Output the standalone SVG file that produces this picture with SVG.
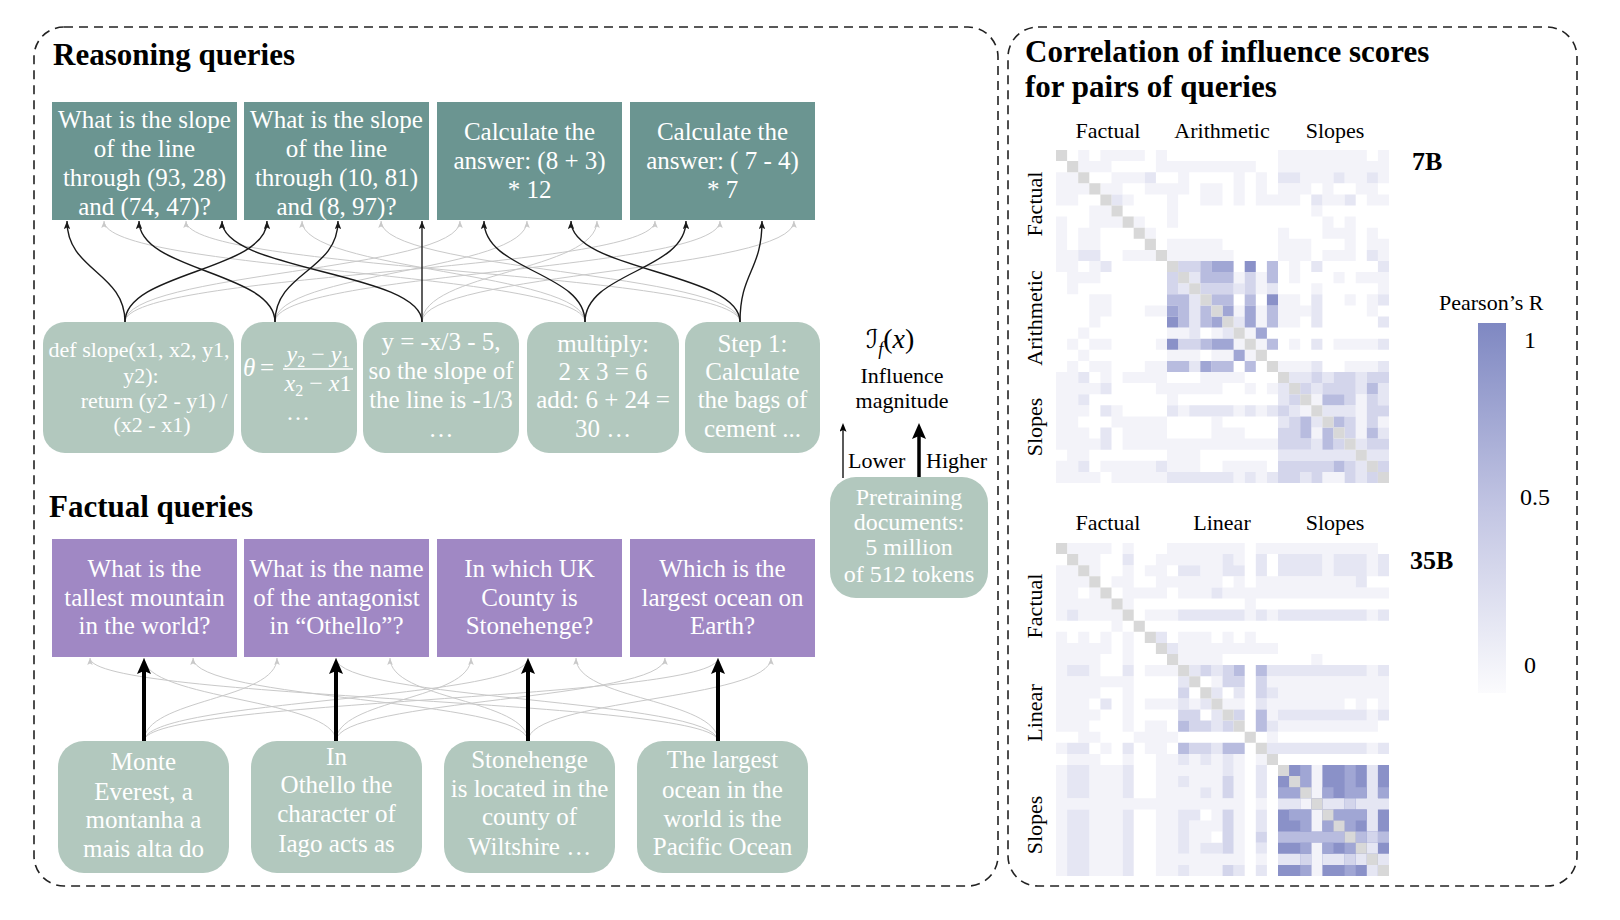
<svg xmlns="http://www.w3.org/2000/svg" width="1620" height="920" viewBox="0 0 1620 920">
<style>
text{font-family:'Liberation Serif','DejaVu Serif',serif}
.ttl{font-size:31px;font-weight:bold;fill:#000}
.q{fill:#6b9591}
.f{fill:#a088c4}
.d{fill:#b2c8be}
.tw{font-size:25px;fill:#fff;text-anchor:middle}
.tc{font-size:22px;fill:#fff;text-anchor:middle}
.lb{font-size:22px;fill:#000;text-anchor:middle}
.panel{fill:none;stroke:#222;stroke-width:1.6;stroke-dasharray:9 6}
.cg{fill:none;stroke:#c9c9c9;stroke-width:1}
.cb{fill:none;stroke:#1a1a1a;stroke-width:1.4}
.big{fill:none;stroke:#000;stroke-width:4}
</style>
<defs>
<marker id="mb" viewBox="0 0 10 8" refX="10" refY="4" markerWidth="8" markerHeight="6.4" markerUnits="userSpaceOnUse" orient="auto"><path d="M0 0L10 4L0 8L2 4z" fill="#1a1a1a"/></marker>
<marker id="mg" viewBox="0 0 10 8" refX="10" refY="4" markerWidth="7" markerHeight="5.6" markerUnits="userSpaceOnUse" orient="auto"><path d="M0 0L10 4L0 8L2 4z" fill="#c9c9c9"/></marker>
<marker id="mbig" viewBox="0 0 16 14" refX="3" refY="7" markerWidth="16" markerHeight="14" markerUnits="userSpaceOnUse" orient="auto"><path d="M0 0L16 7L0 14L3 7z" fill="#000"/></marker>
<marker id="mthin" viewBox="0 0 10 8" refX="2" refY="4" markerWidth="9" markerHeight="7" markerUnits="userSpaceOnUse" orient="auto"><path d="M0 0L10 4L0 8L2 4z" fill="#000"/></marker>
<linearGradient id="cbar" x1="0" y1="0" x2="0" y2="1">
<stop offset="0" stop-color="#7f88c2"/>
<stop offset="0.5" stop-color="#c2c5e3"/>
<stop offset="1" stop-color="#fbfbfd"/>
</linearGradient>
</defs>
<rect width="1620" height="920" fill="#fff"/>

<g id="panels">
<rect class="panel" x="34" y="27" width="964" height="859" rx="30"/>
<rect class="panel" x="1008" y="27" width="569" height="859" rx="30"/>
</g>

<g id="titles">
<text class="ttl" x="53" y="65">Reasoning queries</text>
<text class="ttl" x="49" y="517">Factual queries</text>
<text class="ttl" x="1025" y="62">Correlation of influence scores</text>
<text class="ttl" x="1025" y="97">for pairs of queries</text>
</g>

<g id="connectors">
<g id="reasoning-gray">
<path class="cg" marker-end="url(#mg)" d="M585 322C585 272 104 271 104 221"/>
<path class="cg" marker-end="url(#mg)" d="M740 322C740 272 186 271 186 221"/>
<path class="cg" marker-end="url(#mg)" d="M585 322C585 272 302 271 302 221"/>
<path class="cg" marker-end="url(#mg)" d="M740 322C740 272 381 271 381 221"/>
<path class="cg" marker-end="url(#mg)" d="M125 322C125 272 460 271 460 221"/>
<path class="cg" marker-end="url(#mg)" d="M275 322C275 272 527 271 527 221"/>
<path class="cg" marker-end="url(#mg)" d="M422 322C422 272 597 271 597 221"/>
<path class="cg" marker-end="url(#mg)" d="M125 322C125 272 655 271 655 221"/>
<path class="cg" marker-end="url(#mg)" d="M275 322C275 272 720 271 720 221"/>
<path class="cg" marker-end="url(#mg)" d="M422 322C422 272 794 271 794 221"/>
</g>
<g id="reasoning-black">
<path class="cb" marker-end="url(#mb)" d="M125 322C125 272 67 271 67 221"/>
<path class="cb" marker-end="url(#mb)" d="M125 322C125 272 267 271 267 221"/>
<path class="cb" marker-end="url(#mb)" d="M275 322C275 272 139 271 139 221"/>
<path class="cb" marker-end="url(#mb)" d="M275 322C275 272 338 271 338 221"/>
<path class="cb" marker-end="url(#mb)" d="M422 322C422 272 222 271 222 221"/>
<path class="cb" marker-end="url(#mb)" d="M422 322L422 221"/>
<path class="cb" marker-end="url(#mb)" d="M585 322C585 272 484 271 484 221"/>
<path class="cb" marker-end="url(#mb)" d="M585 322C585 272 686 271 686 221"/>
<path class="cb" marker-end="url(#mb)" d="M740 322C740 272 571 271 571 221"/>
<path class="cb" marker-end="url(#mb)" d="M740 322C740 272 762 271 762 221"/>
</g>
<g id="factual-gray">
<path class="cg" marker-end="url(#mg)" d="M718 741C718 699 90 700 90 658"/>
<path class="cg" marker-end="url(#mg)" d="M336 741C336 699 144 700 144 658"/>
<path class="cg" marker-end="url(#mg)" d="M528 741C528 699 193 700 193 658"/>
<path class="cg" marker-end="url(#mg)" d="M144 741C144 699 277 700 277 658"/>
<path class="cg" marker-end="url(#mg)" d="M718 741C718 699 336 700 336 658"/>
<path class="cg" marker-end="url(#mg)" d="M528 741C528 699 390 700 390 658"/>
<path class="cg" marker-end="url(#mg)" d="M336 741C336 699 471 700 471 658"/>
<path class="cg" marker-end="url(#mg)" d="M144 741C144 699 528 700 528 658"/>
<path class="cg" marker-end="url(#mg)" d="M718 741C718 699 576 700 576 658"/>
<path class="cg" marker-end="url(#mg)" d="M336 741C336 699 665 700 665 658"/>
<path class="cg" marker-end="url(#mg)" d="M144 741C144 699 718 700 718 658"/>
<path class="cg" marker-end="url(#mg)" d="M528 741C528 699 771 700 771 658"/>
</g>
<g id="factual-black">
<path class="big" marker-end="url(#mbig)" d="M144 742V671"/>
<path class="big" marker-end="url(#mbig)" d="M336 742V671"/>
<path class="big" marker-end="url(#mbig)" d="M528 742V671"/>
<path class="big" marker-end="url(#mbig)" d="M718 742V671"/>
</g>
<g id="legend-arrows">
<path d="M843 478V430" stroke="#000" stroke-width="1.3" fill="none" marker-end="url(#mthin)"/>
<path d="M919 478V436" stroke="#000" stroke-width="3.5" fill="none" marker-end="url(#mbig)"/>
</g>
</g>

<g id="reasoning-queries">
<g id="rq1"><rect class="q" x="52" y="102" width="185" height="118"/>
<text class="tw"><tspan x="144.5" y="128">What is the slope</tspan><tspan x="144.5" y="157">of the line</tspan><tspan x="144.5" y="186">through (93, 28)</tspan><tspan x="144.5" y="215">and (74, 47)?</tspan></text></g>
<g id="rq2"><rect class="q" x="244" y="102" width="185" height="118"/>
<text class="tw"><tspan x="336.5" y="128">What is the slope</tspan><tspan x="336.5" y="157">of the line</tspan><tspan x="336.5" y="186">through (10, 81)</tspan><tspan x="336.5" y="215">and (8, 97)?</tspan></text></g>
<g id="rq3"><rect class="q" x="437" y="102" width="185" height="118"/>
<text class="tw"><tspan x="529.5" y="140">Calculate the</tspan><tspan x="529.5" y="169">answer: (8 + 3)</tspan><tspan x="529.5" y="198">* 12</tspan></text></g>
<g id="rq4"><rect class="q" x="630" y="102" width="185" height="118"/>
<text class="tw"><tspan x="722.5" y="140">Calculate the</tspan><tspan x="722.5" y="169">answer: ( 7 - 4)</tspan><tspan x="722.5" y="198">* 7</tspan></text></g>
</g>

<g id="reasoning-docs">
<g id="rd1"><rect class="d" x="43" y="322" width="191" height="131" rx="22"/>
<text class="tc"><tspan x="139" y="357">def slope(x1, x2, y1,</tspan><tspan x="141" y="383">y2):</tspan><tspan x="154" y="408">return (y2 - y1) /</tspan><tspan x="152" y="432">(x2 - x1)</tspan></text></g>
<g id="rd2"><rect class="d" x="241" y="322" width="116" height="131" rx="22"/>
<text x="243" y="376" font-size="25" font-style="italic" fill="#fff">θ</text>
<text x="267" y="376" font-size="25" fill="#fff" text-anchor="middle">=</text>
<text x="318" y="362" font-size="24" fill="#fff" text-anchor="middle"><tspan font-style="italic">y</tspan><tspan font-size="16" dy="5">2</tspan><tspan dy="-5"> − </tspan><tspan font-style="italic">y</tspan><tspan font-size="16" dy="5">1</tspan></text>
<line x1="283" y1="369" x2="353" y2="369" stroke="#fff" stroke-width="1.5"/>
<text x="318" y="391" font-size="24" fill="#fff" text-anchor="middle"><tspan font-style="italic">x</tspan><tspan font-size="16" dy="5">2</tspan><tspan dy="-5"> − </tspan><tspan font-style="italic">x</tspan>1</text>
<text x="298" y="420" font-size="24" fill="#fff" text-anchor="middle">…</text></g>
<g id="rd3"><rect class="d" x="363" y="322" width="156" height="131" rx="22"/>
<text class="tw"><tspan x="441" y="350">y = -x/3 - 5,</tspan><tspan x="441" y="379">so the slope of</tspan><tspan x="441" y="408">the line is -1/3</tspan><tspan x="441" y="437">…</tspan></text></g>
<g id="rd4"><rect class="d" x="527" y="322" width="152" height="131" rx="22"/>
<text class="tw"><tspan x="603" y="352">multiply:</tspan><tspan x="603" y="380">2 x 3 = 6</tspan><tspan x="603" y="408">add: 6 + 24 =</tspan><tspan x="603" y="437">30 …</tspan></text></g>
<g id="rd5"><rect class="d" x="685" y="322" width="135" height="131" rx="22"/>
<text class="tw"><tspan x="752.5" y="352">Step 1:</tspan><tspan x="752.5" y="380">Calculate</tspan><tspan x="752.5" y="408">the bags of</tspan><tspan x="752.5" y="437">cement ...</tspan></text></g>
</g>

<g id="factual-queries">
<g id="fq1"><rect class="f" x="52" y="539" width="185" height="118"/>
<text class="tw"><tspan x="144.5" y="577">What is the</tspan><tspan x="144.5" y="606">tallest mountain</tspan><tspan x="144.5" y="634">in the world?</tspan></text></g>
<g id="fq2"><rect class="f" x="244" y="539" width="185" height="118"/>
<text class="tw"><tspan x="336.5" y="577">What is the name</tspan><tspan x="336.5" y="606">of the antagonist</tspan><tspan x="336.5" y="634">in “Othello”?</tspan></text></g>
<g id="fq3"><rect class="f" x="437" y="539" width="185" height="118"/>
<text class="tw"><tspan x="529.5" y="577">In which UK</tspan><tspan x="529.5" y="606">County is</tspan><tspan x="529.5" y="634">Stonehenge?</tspan></text></g>
<g id="fq4"><rect class="f" x="630" y="539" width="185" height="118"/>
<text class="tw"><tspan x="722.5" y="577">Which is the</tspan><tspan x="722.5" y="606">largest ocean on</tspan><tspan x="722.5" y="634">Earth?</tspan></text></g>
</g>

<g id="factual-docs">
<g id="fd1"><rect class="d" x="58" y="741" width="171" height="132" rx="26"/>
<text class="tw"><tspan x="143.5" y="770">Monte</tspan><tspan x="143.5" y="800">Everest, a</tspan><tspan x="143.5" y="828">montanha a</tspan><tspan x="143.5" y="857">mais alta do</tspan></text></g>
<g id="fd2"><rect class="d" x="251" y="741" width="171" height="132" rx="26"/>
<text class="tw"><tspan x="336.5" y="765">In</tspan><tspan x="336.5" y="793">Othello the</tspan><tspan x="336.5" y="822">character of</tspan><tspan x="336.5" y="852">Iago acts as</tspan></text></g>
<g id="fd3"><rect class="d" x="444" y="741" width="171" height="132" rx="26"/>
<text class="tw"><tspan x="529.5" y="768">Stonehenge</tspan><tspan x="529.5" y="797">is located in the</tspan><tspan x="529.5" y="825">county of</tspan><tspan x="529.5" y="855">Wiltshire …</tspan></text></g>
<g id="fd4"><rect class="d" x="637" y="741" width="171" height="132" rx="26"/>
<text class="tw"><tspan x="722.5" y="768">The largest</tspan><tspan x="722.5" y="798">ocean in the</tspan><tspan x="722.5" y="827">world is the</tspan><tspan x="722.5" y="855">Pacific Ocean</tspan></text></g>
</g>

<g id="influence-legend">
<text x="866" y="348" font-size="28" fill="#000"><tspan font-family="'DejaVu Sans',sans-serif" font-size="26">ℐ</tspan><tspan font-size="18" font-style="italic" dy="7">f</tspan><tspan dy="-7">(</tspan><tspan font-style="italic">x</tspan><tspan>)</tspan></text>
<text class="lb"><tspan x="902" y="383">Influence</tspan><tspan x="902" y="408">magnitude</tspan></text>
<text x="848" y="468" font-size="22" fill="#000">Lower</text>
<text x="926" y="468" font-size="22" fill="#000">Higher</text>
</g>
<g id="pretraining">
<rect class="d" x="830" y="477" width="158" height="121" rx="26"/>
<text class="tw" style="font-size:24px"><tspan x="909" y="505">Pretraining</tspan><tspan x="909" y="530">documents:</tspan><tspan x="909" y="555">5 million</tspan><tspan x="909" y="582">of 512 tokens</tspan></text>
</g>

<g id="heatmap-7b">
<g transform="translate(1056,150) scale(11.1)">
<rect width="30" height="30" fill="#fff"/>
<path fill="#f3f3f9" d="M2 0h1v1h-1zM4 0h4v1h-4zM9 0h1v1h-1zM20 0h8v1h-8zM29 0h1v1h-1zM2 1h3v1h-3zM9 1h9v1h-9zM20 1h10v1h-10zM0 2h2v1h-2zM5 2h3v1h-3zM11 2h1v1h-1zM16 2h1v1h-1zM18 2h1v1h-1zM22 2h3v1h-3zM26 2h2v1h-2zM29 2h1v1h-1zM0 3h3v1h-3zM4 3h2v1h-2zM8 3h4v1h-4zM13 3h2v1h-2zM16 3h1v1h-1zM18 3h1v1h-1zM20 3h3v1h-3zM24 3h1v1h-1zM27 3h2v1h-2zM0 4h2v1h-2zM6 4h1v1h-1zM10 4h1v1h-1zM13 4h2v1h-2zM16 4h1v1h-1zM18 4h3v1h-3zM21 4h1v1h-1zM24 4h2v1h-2zM28 4h2v1h-2zM3 5h2v1h-2zM10 5h1v1h-1zM23 5h1v1h-1zM0 6h1v1h-1zM3 6h3v1h-3zM7 6h1v1h-1zM10 6h1v1h-1zM24 6h1v1h-1zM26 6h1v1h-1zM0 7h1v1h-1zM2 7h2v1h-2zM8 7h1v1h-1zM20 7h1v1h-1zM24 7h3v1h-3zM28 7h1v1h-1zM0 8h1v1h-1zM2 8h2v1h-2zM10 8h5v1h-5zM20 8h3v1h-3zM26 8h1v1h-1zM28 8h2v1h-2zM0 9h2v1h-2zM6 9h3v1h-3zM10 9h6v1h-6zM20 9h3v1h-3zM24 9h3v1h-3zM29 9h1v1h-1zM0 10h2v1h-2zM3 10h1v1h-1zM21 10h1v1h-1zM1 11h3v1h-3zM21 11h1v1h-1zM25 11h1v1h-1zM27 11h3v1h-3zM1 12h1v1h-1zM23 12h1v1h-1zM29 12h1v1h-1zM3 13h2v1h-2zM20 13h2v1h-2zM26 13h1v1h-1zM28 13h1v1h-1zM3 14h2v1h-2zM8 14h2v1h-2zM20 14h3v1h-3zM28 14h1v1h-1zM3 15h1v1h-1zM20 15h2v1h-2zM2 16h1v1h-1zM1 17h1v1h-1zM3 17h2v1h-2zM9 17h1v1h-1zM21 17h1v1h-1zM25 17h4v1h-4zM2 18h1v1h-1zM1 19h1v1h-1zM3 19h2v1h-2zM8 19h2v1h-2zM20 19h3v1h-3zM26 19h3v1h-3zM0 20h2v1h-2zM4 20h1v1h-1zM6 20h4v1h-4zM13 20h4v1h-4zM0 21h4v1h-4zM9 21h6v1h-6zM17 21h1v1h-1zM19 21h1v1h-1zM0 22h2v1h-2zM10 22h1v1h-1zM0 23h3v1h-3zM5 23h1v1h-1zM11 23h1v1h-1zM16 23h1v1h-1zM18 23h1v1h-1zM0 24h2v1h-2zM5 24h5v1h-5zM14 24h1v1h-1zM0 25h3v1h-3zM6 25h4v1h-4zM14 25h3v1h-3zM0 26h4v1h-4zM6 26h14v1h-14zM1 27h2v1h-2zM10 27h3v1h-3zM0 28h2v1h-2zM4 28h5v1h-5zM10 28h3v1h-3zM15 28h4v1h-4zM0 29h4v1h-4zM5 29h5v1h-5zM16 29h1v1h-1zM18 29h1v1h-1zM16 11h1v1h-1zM18 11h1v1h-1zM18 12h1v1h-1zM16 14h1v1h-1zM18 14h1v1h-1zM18 15h1v1h-1zM10 16h2v1h-2zM14 16h1v1h-1zM17 16h1v1h-1zM16 17h1v1h-1zM18 17h1v1h-1zM10 18h3v1h-3zM14 18h2v1h-2zM17 18h1v1h-1zM23 22h1v1h-1zM27 22h1v1h-1zM22 23h1v1h-1zM27 23h1v1h-1zM27 24h1v1h-1zM29 24h1v1h-1zM23 25h1v1h-1zM27 25h1v1h-1zM24 29h2v1h-2z"/>
<path fill="#e5e6f3" d="M8 2h1v1h-1zM20 2h2v1h-2zM25 2h1v1h-1zM28 2h1v1h-1zM5 4h1v1h-1zM23 4h1v1h-1zM26 4h1v1h-1zM2 9h2v1h-2zM28 9h1v1h-1zM4 10h1v1h-1zM23 10h1v1h-1zM29 10h1v1h-1zM23 13h1v1h-1zM29 13h1v1h-1zM23 14h1v1h-1zM23 15h1v1h-1zM29 15h1v1h-1zM23 17h1v1h-1zM29 17h1v1h-1zM23 19h1v1h-1zM29 19h1v1h-1zM2 20h1v1h-1zM4 21h1v1h-1zM2 22h1v1h-1zM4 23h1v1h-1zM10 23h1v1h-1zM12 23h4v1h-4zM17 23h1v1h-1zM19 23h1v1h-1zM4 25h1v1h-1zM4 26h1v1h-1zM2 28h1v1h-1zM9 28h1v1h-1zM10 29h6v1h-6zM17 29h1v1h-1zM19 29h1v1h-1zM12 11h1v1h-1zM11 12h1v1h-1zM16 12h1v1h-1zM19 12h1v1h-1zM12 13h1v1h-1zM12 14h1v1h-1zM12 15h1v1h-1zM16 15h1v1h-1zM12 16h1v1h-1zM15 16h1v1h-1zM12 19h1v1h-1zM21 20h2v1h-2zM24 20h1v1h-1zM27 20h1v1h-1zM20 21h1v1h-1zM23 21h1v1h-1zM27 21h1v1h-1zM29 21h1v1h-1zM20 22h1v1h-1zM29 22h1v1h-1zM21 23h1v1h-1zM24 23h3v1h-3zM20 24h1v1h-1zM23 24h1v1h-1zM29 25h1v1h-1zM23 26h1v1h-1zM27 26h1v1h-1zM20 27h7v1h-7zM28 27h2v1h-2zM27 28h1v1h-1zM22 29h1v1h-1zM27 29h1v1h-1z"/>
<path fill="#d3d5eb" d="M11 10h2v1h-2zM10 11h1v1h-1zM17 11h1v1h-1zM10 12h1v1h-1zM13 12h3v1h-3zM17 12h1v1h-1zM11 17h2v1h-2zM23 20h1v1h-1zM25 20h2v1h-2zM28 20h2v1h-2zM22 21h1v1h-1zM24 21h3v1h-3zM21 22h1v1h-1zM26 22h1v1h-1zM28 22h1v1h-1zM20 23h1v1h-1zM28 23h2v1h-2zM21 24h1v1h-1zM26 24h1v1h-1zM28 24h1v1h-1zM20 25h2v1h-2zM26 25h1v1h-1zM20 26h3v1h-3zM25 26h1v1h-1zM28 26h2v1h-2zM20 28h5v1h-5zM26 28h1v1h-1zM29 28h1v1h-1zM20 29h2v1h-2zM23 29h1v1h-1zM26 29h1v1h-1zM28 29h1v1h-1z"/>
<path fill="#b8bcdf" d="M13 10h1v1h-1zM19 10h1v1h-1zM13 11h3v1h-3zM19 11h1v1h-1zM10 13h2v1h-2zM14 13h2v1h-2zM17 13h1v1h-1zM11 14h1v1h-1zM13 14h1v1h-1zM19 14h1v1h-1zM11 15h1v1h-1zM13 15h1v1h-1zM19 15h1v1h-1zM13 17h1v1h-1zM19 17h1v1h-1zM10 19h2v1h-2zM14 19h2v1h-2zM17 19h1v1h-1zM28 21h1v1h-1zM24 22h2v1h-2zM22 24h1v1h-1zM25 24h1v1h-1zM22 25h1v1h-1zM24 25h1v1h-1zM28 25h1v1h-1zM24 26h1v1h-1zM25 28h1v1h-1z"/>
<path fill="#a0a6d4" d="M14 10h2v1h-2zM10 14h1v1h-1zM15 14h1v1h-1zM17 14h1v1h-1zM14 15h1v1h-1zM17 15h1v1h-1zM18 16h1v1h-1zM14 17h2v1h-2zM16 18h1v1h-1zM13 19h1v1h-1z"/>
<path fill="#8a91c8" d="M17 10h1v1h-1zM19 13h1v1h-1zM10 15h1v1h-1zM10 17h1v1h-1z"/>
<path fill="#d8d8d8" d="M0 0h1v1h-1zm1 1h1v1h-1zm1 1h1v1h-1zm1 1h1v1h-1zm1 1h1v1h-1zm1 1h1v1h-1zm1 1h1v1h-1zm1 1h1v1h-1zm1 1h1v1h-1zm1 1h1v1h-1zm1 1h1v1h-1zm1 1h1v1h-1zm1 1h1v1h-1zm1 1h1v1h-1zm1 1h1v1h-1zm1 1h1v1h-1zm1 1h1v1h-1zm1 1h1v1h-1zm1 1h1v1h-1zm1 1h1v1h-1zm1 1h1v1h-1zm1 1h1v1h-1zm1 1h1v1h-1zm1 1h1v1h-1zm1 1h1v1h-1zm1 1h1v1h-1zm1 1h1v1h-1zm1 1h1v1h-1zm1 1h1v1h-1zm1 1h1v1h-1z"/>
</g>
<text class="lb" x="1108" y="138">Factual</text>
<text class="lb" x="1222" y="138">Arithmetic</text>
<text class="lb" x="1335" y="138">Slopes</text>
<text class="lb" transform="translate(1042,204) rotate(-90)">Factual</text>
<text class="lb" transform="translate(1042,318) rotate(-90)">Arithmetic</text>
<text class="lb" transform="translate(1042,427) rotate(-90)">Slopes</text>
<text x="1412" y="170" font-size="26" font-weight="bold" fill="#000">7B</text>
</g>

<g id="heatmap-35b">
<g transform="translate(1056,543) scale(11.1)">
<rect width="30" height="30" fill="#fff"/>
<path fill="#8a91c8" d="M20 20h10v10h-10z"/>
<path fill="#f3f3f9" d="M1 0h4v1h-4zM6 0h1v1h-1zM10 0h7v1h-7zM18 0h11v1h-11zM2 1h2v1h-2zM9 1h6v1h-6zM16 1h1v1h-1zM24 1h1v1h-1zM28 1h1v1h-1zM0 2h2v1h-2zM3 2h1v1h-1zM6 2h1v1h-1zM8 2h2v1h-2zM13 2h2v1h-2zM24 2h1v1h-1zM28 2h1v1h-1zM0 3h3v1h-3zM5 3h2v1h-2zM9 3h6v1h-6zM16 3h1v1h-1zM18 3h9v1h-9zM0 4h2v1h-2zM3 4h1v1h-1zM6 4h4v1h-4zM11 4h3v1h-3zM15 4h15v1h-15zM0 5h5v1h-5zM6 5h1v1h-1zM17 5h1v1h-1zM0 6h1v1h-1zM2 6h4v1h-4zM8 6h3v1h-3zM17 6h1v1h-1zM19 6h1v1h-1zM28 6h1v1h-1zM5 7h1v1h-1zM0 8h1v1h-1zM2 8h1v1h-1zM4 8h1v1h-1zM6 8h1v1h-1zM11 8h3v1h-3zM15 8h1v1h-1zM17 8h1v1h-1zM0 9h5v1h-5zM6 9h1v1h-1zM11 9h9v1h-9zM0 10h4v1h-4zM6 10h1v1h-1zM11 10h4v1h-4zM23 10h1v1h-1zM0 11h1v1h-1zM3 11h1v1h-1zM8 11h3v1h-3zM28 11h1v1h-1zM0 12h7v1h-7zM20 12h10v1h-10zM0 13h4v1h-4zM6 13h1v1h-1zM20 13h10v1h-10zM0 14h3v1h-3zM6 14h1v1h-1zM8 14h3v1h-3zM20 14h6v1h-6zM27 14h1v1h-1zM29 14h1v1h-1zM0 15h4v1h-4zM6 15h1v1h-1zM28 15h1v1h-1zM0 16h3v1h-3zM6 16h1v1h-1zM8 16h2v1h-2zM20 16h9v1h-9zM2 17h2v1h-2zM7 17h4v1h-4zM0 18h1v1h-1zM4 18h1v1h-1zM8 18h2v1h-2zM28 18h1v1h-1zM1 19h3v1h-3zM6 19h1v1h-1zM9 19h2v1h-2zM0 20h1v10h-1zM3 20h3v10h-3zM9 20h2v10h-2zM0 23h11v1h-11zM11 20h4v1h-4zM16 20h1v1h-1zM12 21h3v1h-3zM16 21h1v1h-1zM11 22h2v1h-2zM14 22h1v1h-1zM16 22h1v1h-1zM11 23h6v1h-6zM18 23h1v1h-1zM14 24h1v1h-1zM16 24h1v1h-1zM12 25h3v1h-3zM16 25h1v1h-1zM12 26h2v1h-2zM16 26h1v1h-1zM12 27h1v1h-1zM16 27h1v1h-1zM11 28h6v1h-6zM18 28h1v1h-1zM12 29h3v1h-3zM23 20h1v3h-1zM23 24h1v2h-1zM23 27h1v1h-1zM23 29h1v1h-1zM22 23h1v1h-1zM23 28h1v1h-1zM14 12h1v1h-1zM19 12h1v1h-1zM12 14h1v1h-1zM15 14h2v1h-2zM19 14h1v1h-1zM19 15h1v1h-1zM19 17h1v1h-1zM12 19h1v1h-1zM14 19h1v1h-1zM16 19h1v1h-1zM18 19h1v1h-1z"/>
<path fill="#e5e6f3" d="M6 1h1v1h-1zM15 1h1v1h-1zM18 1h1v1h-1zM20 1h4v1h-4zM25 1h3v1h-3zM29 1h1v1h-1zM11 2h2v1h-2zM15 2h2v1h-2zM18 2h1v1h-1zM20 2h4v1h-4zM25 2h3v1h-3zM29 2h1v1h-1zM27 3h1v1h-1zM14 4h1v1h-1zM1 6h1v1h-1zM11 6h6v1h-6zM18 6h1v1h-1zM20 6h8v1h-8zM29 6h1v1h-1zM9 8h1v1h-1zM10 9h1v1h-1zM1 11h2v1h-2zM6 11h1v1h-1zM4 14h1v1h-1zM1 18h2v1h-2zM6 18h1v1h-1zM1 20h2v3h-2zM1 24h2v6h-2zM6 20h1v3h-1zM6 24h1v6h-1zM20 11h8v1h-8zM29 11h1v1h-1zM20 15h8v1h-8zM29 15h1v1h-1zM20 18h8v1h-8zM29 18h1v1h-1zM15 20h1v1h-1zM18 20h1v3h-1zM11 21h1v1h-1zM13 22h1v1h-1zM11 24h2v1h-2zM18 24h1v2h-1zM11 25h1v1h-1zM11 26h1v1h-1zM11 27h1v1h-1zM13 27h2v1h-2zM18 27h1v1h-1zM11 29h1v1h-1zM16 29h1v1h-1zM18 29h1v1h-1zM12 11h1v1h-1zM14 11h1v1h-1zM19 11h1v1h-1zM11 12h1v1h-1zM14 13h1v1h-1zM16 13h1v1h-1zM19 13h1v1h-1zM11 14h1v1h-1zM13 14h1v1h-1zM18 14h1v1h-1zM14 15h1v1h-1zM14 16h1v1h-1zM19 16h1v1h-1zM14 18h1v1h-1zM19 18h1v1h-1zM11 19h1v1h-1zM13 19h1v1h-1zM15 19h1v1h-1zM20 23h2v1h-2zM24 23h2v1h-2zM27 23h3v1h-3zM23 26h1v1h-1zM20 28h2v1h-2zM24 28h2v1h-2zM27 28h1v1h-1zM29 28h1v1h-1zM28 20h1v3h-1zM28 24h1v2h-1zM28 27h1v1h-1zM28 29h1v1h-1z"/>
<path fill="#d3d5eb" d="M13 11h1v1h-1zM15 11h1v1h-1zM15 12h2v1h-2zM18 12h1v1h-1zM11 13h1v1h-1zM18 13h1v1h-1zM11 15h2v1h-2zM16 15h1v1h-1zM12 16h2v1h-2zM15 16h1v1h-1zM12 18h2v1h-2zM15 21h1v2h-1zM15 24h1v4h-1zM15 29h1v1h-1zM18 26h1v1h-1zM26 23h1v1h-1zM28 26h1v1h-1zM22 28h1v1h-1zM26 28h1v1h-1z"/>
<path fill="#b8bcdf" d="M16 11h1v1h-1zM18 11h1v1h-1zM18 15h1v1h-1zM11 16h1v1h-1zM18 16h1v1h-1zM11 18h1v1h-1zM15 18h2v1h-2zM20 26h6v1h-6zM27 26h1v1h-1zM29 26h1v1h-1z"/>
<path fill="#a0a6d4" d="M22 20h1v2h-1zM26 20h1v2h-1zM20 22h2v1h-2zM24 22h1v1h-1zM26 22h2v1h-2zM29 22h1v1h-1zM21 24h2v1h-2zM25 24h3v1h-3zM22 25h1v1h-1zM24 25h1v1h-1zM26 25h1v1h-1zM22 27h1v1h-1zM24 27h1v1h-1zM26 27h1v1h-1zM22 29h1v1h-1zM26 29h1v1h-1z"/>
<path fill="#d8d8d8" d="M0 0h1v1h-1zm1 1h1v1h-1zm1 1h1v1h-1zm1 1h1v1h-1zm1 1h1v1h-1zm1 1h1v1h-1zm1 1h1v1h-1zm1 1h1v1h-1zm1 1h1v1h-1zm1 1h1v1h-1zm1 1h1v1h-1zm1 1h1v1h-1zm1 1h1v1h-1zm1 1h1v1h-1zm1 1h1v1h-1zm1 1h1v1h-1zm1 1h1v1h-1zm1 1h1v1h-1zm1 1h1v1h-1zm1 1h1v1h-1zm1 1h1v1h-1zm1 1h1v1h-1zm1 1h1v1h-1zm1 1h1v1h-1zm1 1h1v1h-1zm1 1h1v1h-1zm1 1h1v1h-1zm1 1h1v1h-1zm1 1h1v1h-1zm1 1h1v1h-1z"/>
</g>
<text class="lb" x="1108" y="530">Factual</text>
<text class="lb" x="1222" y="530">Linear</text>
<text class="lb" x="1335" y="530">Slopes</text>
<text class="lb" transform="translate(1042,606) rotate(-90)">Factual</text>
<text class="lb" transform="translate(1042,713) rotate(-90)">Linear</text>
<text class="lb" transform="translate(1042,825) rotate(-90)">Slopes</text>
<text x="1410" y="569" font-size="26" font-weight="bold" fill="#000">35B</text>
</g>

<g id="colorbar">
<text x="1439" y="310" font-size="22" fill="#000">Pearson’s R</text>
<rect x="1478" y="323" width="28" height="370" fill="url(#cbar)"/>
<text x="1524" y="348" font-size="24" fill="#000">1</text>
<text x="1520" y="505" font-size="24" fill="#000">0.5</text>
<text x="1524" y="673" font-size="24" fill="#000">0</text>
</g>
</svg>
